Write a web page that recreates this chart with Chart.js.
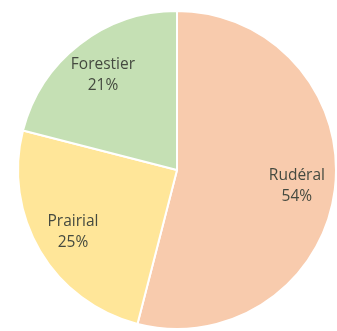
<!DOCTYPE html>
<html>
<head>
<meta charset="utf-8">
<script src="https://cdn.jsdelivr.net/npm/chart.js@4/dist/chart.umd.min.js"></script>
<style>
  html, body { margin:0; padding:0; background:#fff; }
  canvas { display:block; }
</style>
</head>
<body>
<canvas id="pie" width="337" height="331"></canvas>
<script>
// data
const labels = ['Rudéral', 'Prairial', 'Forestier'];
const values = [54, 25, 21];
const colors = ['#F8CBAD', '#FFE699', '#C5E0B4'];

// draw "name / pct%" inside each slice
const sliceLabels = {
  id: 'sliceLabels',
  afterDatasetsDraw(chart) {
    const ctx = chart.ctx;
    const meta = chart.getDatasetMeta(0);
    ctx.save();
    ctx.fillStyle = '#454a40';
    ctx.font = '15.5px "Open Sans", sans-serif';
    ctx.textAlign = 'center';
    ctx.textBaseline = 'middle';
    meta.data.forEach((arc, i) => {
      const mid = (arc.startAngle + arc.endAngle) / 2;
      const r = arc.outerRadius * 0.76;
      const x = arc.x + Math.cos(mid) * r;
      const y = arc.y + Math.sin(mid) * r;
      ctx.fillText(labels[i], x, y - 10);
      ctx.fillText(values[i] + '%', x, y + 11);
    });
    ctx.restore();
  }
};

new Chart(document.getElementById('pie'), {
  type: 'pie',
  data: { labels, datasets: [{ data: values, backgroundColor: colors, borderColor: '#fff', borderWidth: 2 }] },
  options: {
    responsive: false,
    animation: false,
    layout: { padding: { left: 17, right: 0, top: 10, bottom: 1 } },
    plugins: { legend: { display: false }, tooltip: { enabled: false } }
  },
  plugins: [sliceLabels]
});
</script>
</body>
</html>
